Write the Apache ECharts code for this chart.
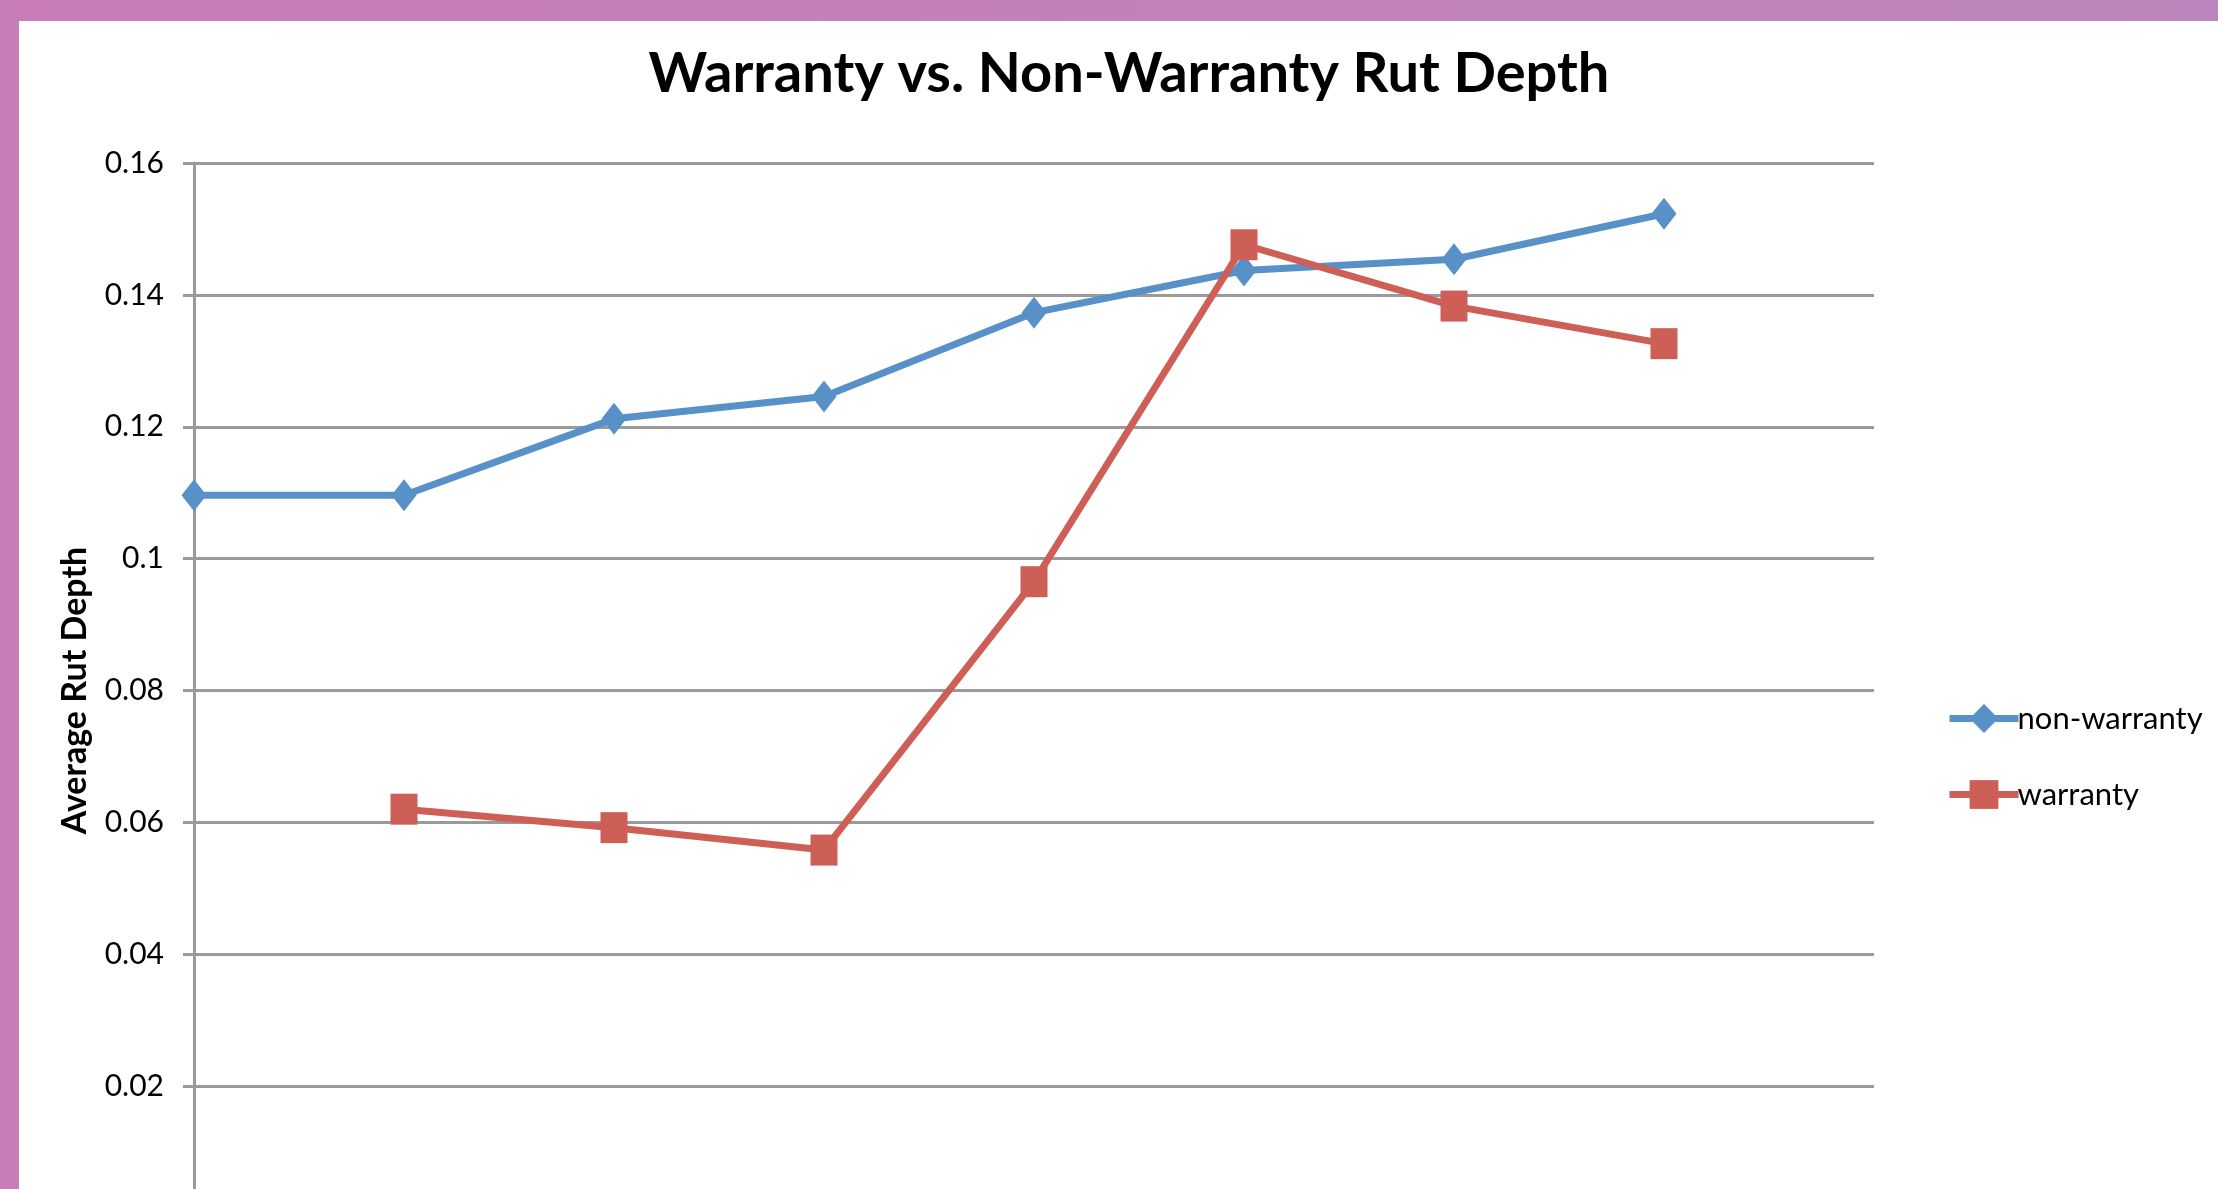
<!DOCTYPE html>
<html>
<head>
<meta charset="utf-8">
<title>Warranty vs. Non-Warranty Rut Depth</title>
<script src="https://cdn.jsdelivr.net/npm/echarts@6/dist/echarts.min.js"></script>
<style>
  html, body { margin: 0; padding: 0; background: #fff; overflow: hidden; }
  #chart { width: 2218px; height: 1189px; }
</style>
</head>
<body>
<div id="chart"></div>
<script>
// data (last category has no values)
const categories = ['1', '2', '3', '4', '5', '6', '7', '8', '9'];
const nonWarranty = [0.1096, 0.1096, 0.1212, 0.1246, 0.1373, 0.1437, 0.1454, 0.1523, null];
const warranty = [null, 0.0620, 0.0592, 0.0558, 0.0965, 0.1476, 0.1383, 0.1326, null];
const seriesNames = ['non-warranty', 'warranty'];

const FONT = 'Lato';
const gridColor = '#9a9a9a';

const chart = echarts.init(document.getElementById('chart'));

chart.setOption({
  backgroundColor: '#fff',
  animation: false,
  textStyle: { fontFamily: FONT, color: '#000' },
  title: {
    text: 'Warranty vs. Non-Warranty Rut Depth',
    left: 1124,
    top: 69,
    textAlign: 'center',
    textVerticalAlign: 'middle',
    textStyle: { fontFamily: FONT, fontSize: 56, fontWeight: 'bold', color: '#000' }
  },
  // frame strips on the top and left edges
  graphic: [
    {
      type: 'rect',
      shape: { x: 0, y: 0, width: 2218, height: 21 },
      style: {
        fill: {
          type: 'linear', x: 0, y: 0, x2: 1, y2: 0,
          colorStops: [
            { offset: 0, color: '#c77cb5' },
            { offset: 1, color: '#bd85bd' }
          ]
        }
      },
      z: 100
    },
    {
      type: 'rect',
      shape: { x: 0, y: 0, width: 19, height: 1189 },
      style: { fill: '#c77db6' },
      z: 100
    }
  ],
  legend: {
    orient: 'vertical',
    left: 1941,
    top: 698,
    itemWidth: 69,
    itemHeight: 36,
    itemGap: 45,
    lineStyle: { width: 7 },
    textStyle: { fontFamily: FONT, fontSize: 31, color: '#000', padding: [0, 0, 0, -6] },
    data: seriesNames
  },
  // the zero line sits below the visible page, so let the grid run off the bottom
  grid: { left: 194, top: 163, width: 1680, height: 1055, outerBoundsMode: 'none', containLabel: false },
  xAxis: {
    type: 'category',
    data: categories,
    boundaryGap: false,
    axisLine: { lineStyle: { color: gridColor, width: 3 } },
    axisTick: { show: false },
    axisLabel: { show: false },
    splitLine: { show: false }
  },
  yAxis: {
    type: 'value',
    min: 0,
    max: 0.16,
    interval: 0.02,
    name: 'Average Rut Depth',
    nameLocation: 'middle',
    nameRotate: 90,
    nameGap: 102,
    nameTextStyle: { fontFamily: FONT, fontSize: 34, fontWeight: 'bold', color: '#000' },
    axisLine: { show: true, lineStyle: { color: gridColor, width: 3 } },
    axisTick: { show: true, length: 11, lineStyle: { color: gridColor, width: 3 } },
    axisLabel: { fontFamily: FONT, fontSize: 30, color: '#000', margin: 30 },
    splitLine: { lineStyle: { color: gridColor, width: 3 } }
  },
  series: [
    {
      name: seriesNames[0],
      type: 'line',
      data: nonWarranty,
      symbol: 'diamond',
      symbolSize: [25, 32],
      lineStyle: { color: '#5890c8', width: 7 },
      itemStyle: { color: '#5890c8' }
    },
    {
      name: seriesNames[1],
      type: 'line',
      data: warranty,
      symbol: 'rect',
      symbolSize: [27, 31],
      lineStyle: { color: '#cd5f57', width: 7 },
      itemStyle: { color: '#cd5f57' }
    }
  ]
});
</script>
</body>
</html>
